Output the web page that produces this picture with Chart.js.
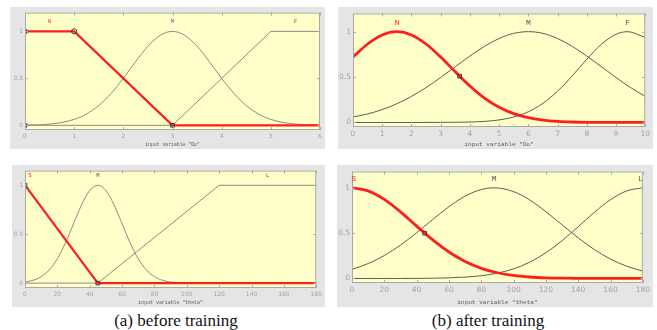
<!DOCTYPE html>
<html>
<head>
<meta charset="utf-8">
<script src="https://cdn.jsdelivr.net/npm/chart.js@4/dist/chart.umd.min.js"></script>
<style>
  html, body { margin: 0; padding: 0; background: #ffffff; }
  body { position: relative; width: 657px; height: 330px; overflow: hidden; }
  canvas { position: absolute; }
  .cap { position: absolute; font-family: "Liberation Serif", "Times New Roman", serif;
         font-size: 17px; line-height: 17px; color: #111; white-space: nowrap;
         transform: translateX(-50%); }
</style>
</head>
<body>
<canvas id="doBefore"></canvas>
<canvas id="doAfter"></canvas>
<canvas id="thetaBefore"></canvas>
<canvas id="thetaAfter"></canvas>
<div class="cap" style="left:176px; top:312px;">(a) before training</div>
<div class="cap" style="left:488px; top:312px;">(b) after training</div>
<script>
// ---------- membership functions of input "Do" (before training) ----------
const doBeforeNames = ['N', 'M', 'F'];
const doBeforeLabelX = [0.5, 3, 5.5];
const doBeforeNX = [0, 1, 3, 6];
const doBeforeNY = [1, 1, 0, 0];
const doBeforeMX = [0, 0.25, 0.5, 0.75, 1, 1.25, 1.5, 1.75, 2, 2.25, 2.5, 2.75, 3,
                    3.25, 3.5, 3.75, 4, 4.25, 4.5, 4.75, 5, 5.25, 5.5, 5.75, 6];
const doBeforeMY = [0.002, 0.005, 0.013, 0.030, 0.063, 0.120, 0.211, 0.339, 0.500, 0.678, 0.841, 0.958, 1,
                    0.958, 0.841, 0.678, 0.500, 0.339, 0.211, 0.120, 0.063, 0.030, 0.013, 0.005, 0.002];
const doBeforeFX = [0, 3, 5, 6];
const doBeforeFY = [0, 0, 1, 1];
const doBeforeMarkRect = [[0, 1], [3, 0], [0, 0]];
const doBeforeMarkCircle = [[1, 1]];

// ---------- membership functions of input "Do" (after training) ----------
const doAfterNames = ['N', 'M', 'F'];
const doAfterLabelX = [1.5, 6, 9.4];
const doAfterX = [0, 0.5, 1, 1.5, 2, 2.5, 3, 3.5, 4, 4.5, 5, 5.5, 6, 6.5, 7, 7.5, 8, 8.5, 9, 9.5, 10];
const doAfterNY = [0.720, 0.864, 0.964, 1, 0.964, 0.864, 0.720, 0.558, 0.402, 0.269, 0.167,
                   0.097, 0.052, 0.026, 0.012, 0.005, 0.002, 0.001, 0, 0, 0];
const doAfterMY = [0.060, 0.094, 0.142, 0.206, 0.287, 0.384, 0.495, 0.614, 0.732, 0.839, 0.925,
                   0.981, 1, 0.981, 0.925, 0.839, 0.732, 0.614, 0.495, 0.384, 0.287];
const doAfterFX = [0, 1, 2, 3, 3.5, 4, 4.5, 5, 5.5, 6, 6.5, 7, 7.5, 8, 8.5, 9, 9.4, 10];
const doAfterFY = [0, 0, 0, 0.001, 0.002, 0.005, 0.012, 0.028, 0.060, 0.118, 0.211, 0.344,
                   0.512, 0.696, 0.861, 0.971, 1, 0.936];
const doAfterMarkRect = [[3.65, 0.51]];

// ---------- membership functions of input "theta" (before training) ----------
const thetaBeforeNames = ['S', 'M', 'L'];
const thetaBeforeLabelX = [3, 45, 150];
const thetaBeforeSX = [0, 45, 180];
const thetaBeforeSY = [1, 0, 0];
const thetaBeforeMX = [0, 5, 10, 15, 20, 25, 30, 35, 40, 45, 50, 55, 60, 65, 70, 75, 80, 85, 90, 100, 110, 180];
const thetaBeforeMY = [0.011, 0.029, 0.066, 0.135, 0.249, 0.411, 0.607, 0.801, 0.946, 1,
                       0.946, 0.801, 0.607, 0.411, 0.249, 0.135, 0.066, 0.029, 0.011, 0.001, 0, 0];
const thetaBeforeLX = [0, 45, 120, 180];
const thetaBeforeLY = [0, 0, 1, 1];
const thetaBeforeMarkRect = [[0, 1], [45, 0]];

// ---------- membership functions of input "theta" (after training) ----------
const thetaAfterNames = ['S', 'M', 'L'];
const thetaAfterLabelX = [1, 88, 178.5];
const thetaAfterX = [0, 10, 20, 30, 40, 50, 60, 70, 80, 90, 100, 110, 120, 130, 140, 150, 160, 170, 180];
const thetaAfterSY = [1, 0.966, 0.872, 0.735, 0.578, 0.425, 0.292, 0.187, 0.112, 0.063,
                      0.033, 0.016, 0.007, 0.003, 0.001, 0, 0, 0, 0];
const thetaAfterMX = [0, 10, 20, 30, 40, 50, 60, 70, 80, 88, 100, 110, 120, 130, 140, 150, 160, 170, 180];
const thetaAfterMY = [0.100, 0.164, 0.253, 0.368, 0.504, 0.651, 0.792, 0.908, 0.981, 1,
                      0.958, 0.866, 0.737, 0.592, 0.448, 0.319, 0.214, 0.135, 0.081];
const thetaAfterLY = [0, 0, 0, 0, 0.001, 0.003, 0.007, 0.015, 0.030, 0.059,
                      0.106, 0.180, 0.284, 0.417, 0.571, 0.730, 0.869, 0.966, 1];
const thetaAfterMarkRect = [[45, 0.5]];

// axis ticks
const yTickValues = [0, 0.5, 1];
const yTickLabels = ['0', '0.5', '1'];

const RED = '#ff1e1e';

function pts(xs, ys) { return xs.map((x, i) => ({ x: x, y: ys[i] })); }
function pairs(list) { return list.map(p => ({ x: p[0], y: p[1] })); }

// gray figure frame, yellow axes, inward tick marks and MF names
const mfPanel = {
  id: 'mfPanel',
  beforeDraw(chart, args, o) {
    const { ctx, width, height, chartArea: a } = chart;
    ctx.save();
    ctx.fillStyle = '#e5e5e5';
    ctx.fillRect(0, 0, width, height);
    ctx.fillStyle = '#ffffc9';
    ctx.fillRect(a.left, a.top, a.right - a.left, a.bottom - a.top);
    ctx.restore();
  },
  afterDatasetsDraw(chart, args, o) {
    const { ctx, chartArea: a, scales } = chart;
    ctx.save();
    ctx.strokeStyle = '#a9a9a9';
    ctx.lineWidth = 1;
    ctx.strokeRect(a.left + 0.5, a.top + 0.5, a.right - a.left - 1, a.bottom - a.top - 1);
    ctx.beginPath();
    scales.x.ticks.forEach(t => {
      const px = Math.round(scales.x.getPixelForValue(t.value)) + 0.5;
      ctx.moveTo(px, a.bottom); ctx.lineTo(px, a.bottom - 3);
      ctx.moveTo(px, a.top); ctx.lineTo(px, a.top + 3);
    });
    yTickValues.forEach(v => {
      const py = Math.round(scales.y.getPixelForValue(v)) + 0.5;
      ctx.moveTo(a.left, py); ctx.lineTo(a.left + 3, py);
      ctx.moveTo(a.right, py); ctx.lineTo(a.right - 3, py);
    });
    ctx.stroke();
    // MF names above the curves
    ctx.font = o.nameFont;
    ctx.textAlign = 'center';
    ctx.textBaseline = 'middle';
    o.names.forEach((n, i) => {
      ctx.fillStyle = i === 0 ? RED : '#555555';
      ctx.fillText(n, scales.x.getPixelForValue(o.nameX[i]), scales.y.getPixelForValue(o.nameY));
    });
    ctx.restore();
  }
};

function makePanel(id, box, area, cfg) {
  const cv = document.getElementById(id);
  cv.width = box.w; cv.height = box.h;
  cv.style.left = box.x + 'px'; cv.style.top = box.y + 'px';
  const gray = cfg.gray;
  const curve = (data, color, w, smooth) => ({
    data: data, borderColor: color, borderWidth: w, pointRadius: 0,
    tension: 0, cubicInterpolationMode: smooth ? 'monotone' : 'default', fill: false
  });
  const marks = (data, style) => ({
    data: data, showLine: false, pointStyle: style, pointRadius: 2.6,
    pointBackgroundColor: 'rgba(0,0,0,0)', pointBorderColor: '#3a3a3a', pointBorderWidth: 1
  });
  const datasets = [];
  cfg.markRect.length && datasets.push(marks(pairs(cfg.markRect), 'rect'));
  cfg.markCircle && datasets.push(marks(pairs(cfg.markCircle), 'circle'));
  datasets.push(curve(cfg.red.data, RED, cfg.redWidth, cfg.red.smooth));
  cfg.others.forEach(c => datasets.push(curve(c.data, gray, 1, c.smooth)));

  return new Chart(cv, {
    type: 'line',
    data: { datasets: datasets },
    options: {
      responsive: false, animation: false, devicePixelRatio: 1,
      layout: { padding: { top: area.top, right: area.right, left: 0, bottom: 0 } },
      plugins: {
        legend: { display: false }, tooltip: { enabled: false },
        mfPanel: { names: cfg.names, nameX: cfg.nameX, nameY: 1.1, nameFont: cfg.nameFont }
      },
      scales: {
        x: {
          type: 'linear', min: cfg.xMin, max: cfg.xMax,
          afterFit: s => { s.height = area.bottom; },
          grid: { display: false, drawTicks: false }, border: { display: false },
          ticks: { stepSize: cfg.xStep, autoSkip: false, maxRotation: 0, padding: cfg.tickPad,
                   color: '#a3a3a3', font: { family: 'DejaVu Sans', size: cfg.tickSize } },
          title: { display: true, text: cfg.xTitle, color: '#5a5a5a',
                   padding: { top: 0, bottom: cfg.titlePad },
                   font: { family: 'Liberation Mono', size: cfg.titleSize } }
        },
        y: {
          min: cfg.yMin, max: cfg.yMax,
          afterFit: s => { s.width = area.left; },
          afterBuildTicks: s => { s.ticks = yTickValues.map(v => ({ value: v })); },
          grid: { display: false, drawTicks: false }, border: { display: false },
          ticks: { padding: 2, color: '#a3a3a3', font: { family: 'DejaVu Sans', size: cfg.tickSize },
                   callback: v => yTickLabels[yTickValues.indexOf(v)] }
        }
      }
    },
    plugins: [mfPanel]
  });
}

makePanel('doBefore', { x: 10, y: 7, w: 315, h: 142 }, { left: 15, top: 3, right: 4, bottom: 19 }, {
  xMin: 0, xMax: 6, xStep: 1, yMin: -0.05, yMax: 1.2,
  xTitle: 'input variable "Do"', titleSize: 4.8, titlePad: 1, tickSize: 6, tickPad: 3,
  names: doBeforeNames, nameX: doBeforeLabelX, nameFont: '5px "Liberation Mono"',
  gray: '#8a8a8a', redWidth: 2.2,
  red: { data: pts(doBeforeNX, doBeforeNY), smooth: false },
  others: [{ data: pts(doBeforeMX, doBeforeMY), smooth: true },
           { data: pts(doBeforeFX, doBeforeFY), smooth: false }],
  markRect: doBeforeMarkRect, markCircle: doBeforeMarkCircle
});

makePanel('doAfter', { x: 338, y: 7, w: 315, h: 142 }, { left: 15, top: 3, right: 6, bottom: 22 }, {
  xMin: 0, xMax: 10, xStep: 1, yMin: -0.05, yMax: 1.2,
  xTitle: 'input variable "Do"', titleSize: 6.1, titlePad: 0.5, tickSize: 7.5, tickPad: 3,
  names: doAfterNames, nameX: doAfterLabelX, nameFont: '8px "Liberation Mono"',
  gray: '#5c5c5c', redWidth: 2.8,
  red: { data: pts(doAfterX, doAfterNY), smooth: true },
  others: [{ data: pts(doAfterX, doAfterMY), smooth: true },
           { data: pts(doAfterFX, doAfterFY), smooth: true }],
  markRect: doAfterMarkRect
});

makePanel('thetaBefore', { x: 12, y: 165, w: 313, h: 142 }, { left: 13, top: 5, right: 6, bottom: 19 }, {
  xMin: 0, xMax: 180, xStep: 20, yMin: -0.05, yMax: 1.15,
  xTitle: 'input variable "theta"', titleSize: 4.9, titlePad: 1, tickSize: 6, tickPad: 3,
  names: thetaBeforeNames, nameX: thetaBeforeLabelX, nameFont: '5.5px "Liberation Mono"',
  gray: '#8a8a8a', redWidth: 2.2,
  red: { data: pts(thetaBeforeSX, thetaBeforeSY), smooth: false },
  others: [{ data: pts(thetaBeforeMX, thetaBeforeMY), smooth: true },
           { data: pts(thetaBeforeLX, thetaBeforeLY), smooth: false }],
  markRect: thetaBeforeMarkRect
});

makePanel('thetaAfter', { x: 337, y: 165, w: 316, h: 142 }, { left: 15, top: 3, right: 9, bottom: 24 }, {
  xMin: 0, xMax: 180, xStep: 20, yMin: -0.05, yMax: 1.18,
  xTitle: 'input variable "theta"', titleSize: 6.1, titlePad: 1, tickSize: 7.5, tickPad: 3,
  names: thetaAfterNames, nameX: thetaAfterLabelX, nameFont: '8px "Liberation Mono"',
  gray: '#5c5c5c', redWidth: 2.8,
  red: { data: pts(thetaAfterX, thetaAfterSY), smooth: true },
  others: [{ data: pts(thetaAfterMX, thetaAfterMY), smooth: true },
           { data: pts(thetaAfterX, thetaAfterLY), smooth: true }],
  markRect: thetaAfterMarkRect
});
</script>
</body>
</html>
